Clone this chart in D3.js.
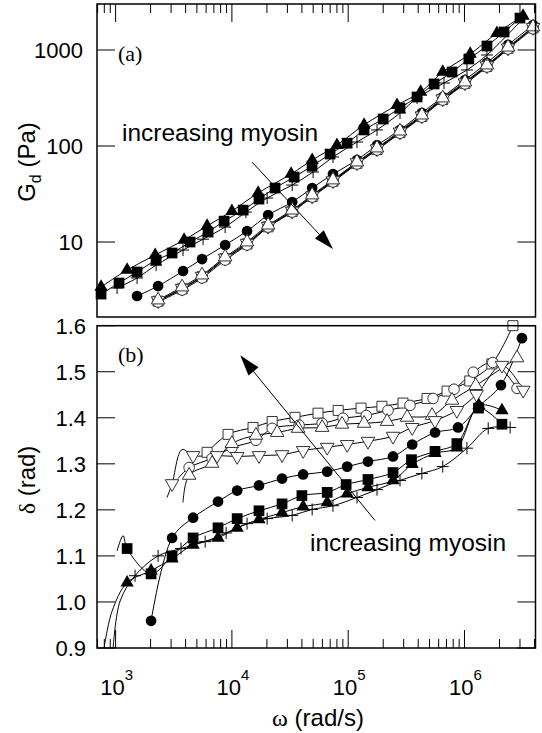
<!DOCTYPE html>
<html>
<head>
<meta charset="utf-8">
<script src="https://cdn.jsdelivr.net/npm/d3@7"></script>
<style>
  body { margin: 0; background: #fff; }
  svg { display: block; }
</style>
</head>
<body>
<svg id="chart" width="542" height="733"></svg>
<script>
// ---- panel (a): G_d (Pa) vs omega (rad/s) ----
const wFsqT = [750,1070,1530,2230,3060,4370,6240,8570,1.25e4,1.71e4,2.35e4,3.43e4,4.89e4,6.99e4,9.78e4,1.37e5,2.0e5,2.79e5,3.91e5,5.48e5,7.82e5,1.09e6,1.56e6,2.19e6,3.0e6];
const gFsqT = [2.87,3.74,4.87,6.49,7.68,10.0,12.7,16.5,21.5,28.0,36.5,47.5,61.9,82.5,107,147,191,249,324,443,590,806,1100,1540,2150];
const wFtrT = [750,1256,2190,3880,6120,1.0e4,1.68e4,3.23e4,4.9e4,8.0e4,1.37e5,2.63e5,4.2e5,6.5e5,1.12e6,1.9e6,3.19e6];
const gFtrT = [3.40,5.11,7.32,10.5,14.7,21.0,32.4,51.1,71.4,102,166,267,365,590,908,1500,2260];
const wPlT = [1030,1530,2230,3800,5650,8750,1.32e4,2.01e4,3.3e4,4.99e4,7.4e4,1.19e5,1.77e5,2.79e5,3.91e5,6.67e5,1.05e6,1.56e6,3.0e6];
const gPlT = [3.32,4.22,5.75,8.25,10.7,14.3,20.5,28.7,39.2,53.6,76.8,110,147,221,316,453,619,887,1960];
const wFciT = [1530,2320,3800,5540,8750,1.35e4,2.05e4,3.3e4,4.9e4,7.4e4,1.19e5,1.77e5,2.79e5,4.3e5,6.5e5,1.01e6,1.56e6,2.37e6,3.89e6];
const gFciT = [2.74,3.48,4.99,6.65,9.31,13.0,19.1,26.1,36.5,51.0,71.4,102,147,221,324,487,733,1130,1820];
const wOpenT = [2320,3730,5540,8750,1.35e4,2.05e4,3.3e4,4.9e4,7.4e4,1.19e5,1.77e5,2.79e5,4.3e5,6.5e5,1.01e6,1.56e6,2.37e6,3.89e6];
const gOtrT = [2.49,3.40,4.53,6.98,10.0,15.0,21.5,30.9,44.3,68.1,95.3,143,210,316,464,698,1070,1740];
const gOciT = [2.37,3.16,4.22,6.49,9.31,14.3,20.5,29.4,42.2,64.9,90.9,136,200,301,443,665,1024,1660];
const gOdtT = [2.45,3.30,4.40,6.80,9.70,14.6,21.0,30.2,43.5,67.0,93.5,140,206,310,455,685,1050,1720];
const gOsqT = [2.42,3.25,4.35,6.70,9.55,14.4,20.8,29.8,43.0,66.0,92.0,138,203,305,450,675,1040,1700];

// ---- panel (b): delta (rad) vs omega (rad/s) ----
const wFciB = [2020,3060,4640,7600,1.11e4,1.71e4,2.70e4,4.1e4,6.6e4,9.8e4,1.48e5,2.43e5,3.55e5,5.58e5,8.8e5,1.33e6,2.06e6,3.12e6];
const dFciB = [0.959,1.139,1.183,1.218,1.242,1.253,1.268,1.277,1.283,1.294,1.305,1.316,1.342,1.368,1.379,1.425,1.471,1.573];
const wFsqB = [1030,1160,1256,2020,3060,4640,7600,1.11e4,1.71e4,2.70e4,4.0e4,6.6e4,9.6e4,1.48e5,2.43e5,3.5e5,5.58e5,8.6e5,1.32e6,2.1e6];
const dFsqB = [1.111,1.144,1.116,1.061,1.100,1.139,1.161,1.181,1.198,1.213,1.231,1.238,1.255,1.266,1.281,1.309,1.327,1.344,1.421,1.386];
const wFtrB = [796,933,1256,2020,3060,4640,7600,1.11e4,1.71e4,2.70e4,4.1e4,6.6e4,9.8e4,1.48e5,2.43e5,3.55e5,5.58e5,8.6e5,1.33e6,2.1e6];
const dFtrB = [0.90,0.98,1.042,1.068,1.094,1.124,1.139,1.161,1.179,1.194,1.207,1.216,1.235,1.249,1.264,1.299,1.323,1.335,1.427,1.416];
const wPlB = [952,1093,1470,2320,3650,5890,8920,1.35e4,2.01e4,3.3e4,4.9e4,7.4e4,1.19e5,1.77e5,2.79e5,4.3e5,6.5e5,1.05e6,1.6e6,2.47e6];
const dPlB = [0.90,1.002,1.057,1.100,1.116,1.131,1.150,1.170,1.181,1.188,1.201,1.209,1.227,1.244,1.264,1.279,1.294,1.334,1.377,1.379];
const wOdtB = [2770,3060,3730,4640,7460,1.11e4,1.71e4,2.70e4,4.1e4,6.6e4,9.8e4,1.48e5,2.43e5,3.55e5,5.58e5,8.6e5,1.27e6,2.1e6,3.2e6];
const dOdtB = [1.227,1.257,1.331,1.318,1.318,1.316,1.318,1.320,1.329,1.336,1.342,1.349,1.360,1.379,1.394,1.416,1.451,1.514,1.460];
const wOtrB = [3800,4290,6760,1.0e4,1.61e4,2.45e4,3.71e4,5.97e4,8.85e4,1.37e5,2.16e5,3.21e5,5.26e5,7.82e5,1.25e6,2.83e6];
const dOtrB = [1.216,1.275,1.301,1.344,1.362,1.368,1.377,1.379,1.386,1.388,1.392,1.401,1.405,1.438,1.47,1.53];
const wOciB = [3440,4290,6760,1.0e4,1.61e4,2.22e4,3.78e4,5.97e4,9.04e4,1.43e5,2.2e5,3.4e5,5.37e5,8.13e5,1.19e6,1.75e6,2.83e6];
const dOciB = [1.268,1.292,1.312,1.335,1.351,1.377,1.384,1.388,1.399,1.405,1.416,1.427,1.442,1.462,1.499,1.52,1.464];
const wOsqB = [6120,9270,1.52e4,2.22e4,3.49e4,5.5e4,8.2e4,1.29e5,1.95e5,2.96e5,4.76e5,7.08e5,1.11e6,1.72e6,2.61e6];
const dOsqB = [1.325,1.364,1.379,1.392,1.401,1.410,1.416,1.421,1.425,1.432,1.442,1.458,1.480,1.517,1.600];

const xMajor = [1e3,1e4,1e5,1e6];
const gTicks = [10,100,1000];
const dTicks = [0.9,1.0,1.1,1.2,1.3,1.4,1.5,1.6];

const svg = d3.select("#chart");
const sans = "'Liberation Sans', Arial, Helvetica, sans-serif";
const serif = "'Liberation Serif', 'Times New Roman', serif";

const x = d3.scaleLog().domain([692, 4.08e6]).range([97, 535.5]);
const yG = d3.scaleLog().domain([1.656, 3013]).range([317, 4]);
const yD = d3.scaleLinear().domain([0.9, 1.6]).range([648, 325.7]);

// marker shapes
const sym = {
  fsq: {d: d3.symbol().type(d3.symbolSquare).size(115)(), fill: "#000", stroke: "none"},
  ftr: {d: d3.symbol().type(d3.symbolTriangle).size(76)(), fill: "#000", stroke: "none"},
  fci: {d: d3.symbol().type(d3.symbolCircle).size(90)(), fill: "#000", stroke: "none"},
  pl:  {d: "M-6,0H6M0,-6V6", fill: "none", stroke: "#000"},
  osq: {d: d3.symbol().type(d3.symbolSquare).size(100)(), fill: "#fff", stroke: "#333"},
  oci: {d: d3.symbol().type(d3.symbolCircle).size(88)(), fill: "#fff", stroke: "#333"},
  otr: {d: d3.symbol().type(d3.symbolTriangle).size(80)(), fill: "#fff", stroke: "#333"},
  odt: {d: d3.symbol().type(d3.symbolTriangle).size(80)(), fill: "#fff", stroke: "#333", rot: 180}
};

// series tables (draw order), bare = indices drawn as line only
const topSeries = [
  {w: wFciT, v: gFciT, s: "fci", bare: []},
  {w: wOpenT, v: gOsqT, s: "osq", bare: []},
  {w: wOpenT, v: gOdtT, s: "odt", bare: []},
  {w: wOpenT, v: gOciT, s: "oci", bare: []},
  {w: wOpenT, v: gOtrT, s: "otr", bare: []},
  {w: wFtrT, v: gFtrT, s: "ftr", bare: []},
  {w: wFsqT, v: gFsqT, s: "fsq", bare: []},
  {w: wPlT, v: gPlT, s: "pl", bare: [18]}
];
const botSeries = [
  {w: wOsqB, v: dOsqB, s: "osq", bare: []},
  {w: wOciB, v: dOciB, s: "oci", bare: [0]},
  {w: wOtrB, v: dOtrB, s: "otr", bare: [0]},
  {w: wOdtB, v: dOdtB, s: "odt", bare: [0, 2]},
  {w: wFciB, v: dFciB, s: "fci", bare: []},
  {w: wFsqB, v: dFsqB, s: "fsq", bare: [0, 1]},
  {w: wFtrB, v: dFtrB, s: "ftr", bare: [0, 1]},
  {w: wPlB, v: dPlB, s: "pl", bare: [0, 1]}
];

const defs = svg.append("defs");
defs.append("clipPath").attr("id", "clipTop").append("rect")
  .attr("x", 97).attr("y", 4).attr("width", 438.5).attr("height", 313);
defs.append("clipPath").attr("id", "clipBot").append("rect")
  .attr("x", 97).attr("y", 325.7).attr("width", 438.5).attr("height", 322.3);

function drawPanel(series, y, clip) {
  const line = d3.line().x(d => x(d[0])).y(d => y(d[1])).curve(d3.curveCatmullRom.alpha(0.5));
  const gl = svg.append("g").attr("clip-path", "url(#" + clip + ")");
  series.forEach(s => {
    gl.append("path").attr("d", line(s.w.map((w, i) => [w, s.v[i]])))
      .attr("fill", "none").attr("stroke", "#000").attr("stroke-width", 1);
  });
  const gm = svg.append("g");
  series.forEach(s => {
    const m = sym[s.s];
    s.w.forEach((w, i) => {
      if (s.bare.includes(i)) return;
      gm.append("path").attr("d", m.d)
        .attr("transform", "translate(" + x(w) + "," + y(s.v[i]) + ")" + (m.rot ? " rotate(" + m.rot + ")" : ""))
        .attr("fill", m.fill).attr("stroke", m.stroke).attr("stroke-width", 1);
    });
  });
}

drawPanel(topSeries, yG, "clipTop");
drawPanel(botSeries, yD, "clipBot");

// frames
svg.append("rect").attr("x", 97).attr("y", 4).attr("width", 438.5).attr("height", 313)
  .attr("fill", "none").attr("stroke", "#000").attr("stroke-width", 1.5);
svg.append("rect").attr("x", 97).attr("y", 325.7).attr("width", 438.5).attr("height", 322.3)
  .attr("fill", "none").attr("stroke", "#000").attr("stroke-width", 1.5);

// x ticks: top edge of panel (a) and bottom edge of panel (b)
const ax = svg.append("g").attr("stroke", "#000").attr("stroke-width", 1);
x.ticks().forEach(t => {
  const major = xMajor.includes(t);
  const len = major ? 18 : 9;
  const px = x(t);
  if (px < 97 || px > 535.5) return;
  ax.append("line").attr("x1", px).attr("x2", px).attr("y1", 4).attr("y2", 4 + len);
  ax.append("line").attr("x1", px).attr("x2", px).attr("y1", 648).attr("y2", 648 - len);
});
gTicks.forEach(t => {
  ax.append("line").attr("x1", 97).attr("x2", 115).attr("y1", yG(t)).attr("y2", yG(t));
  ax.append("line").attr("x1", 535.5).attr("x2", 517.5).attr("y1", yG(t)).attr("y2", yG(t));
});
dTicks.forEach(t => {
  ax.append("line").attr("x1", 97).attr("x2", 115).attr("y1", yD(t)).attr("y2", yD(t));
  ax.append("line").attr("x1", 535.5).attr("x2", 517.5).attr("y1", yD(t)).attr("y2", yD(t));
});

// tick labels
const lab = svg.append("g").attr("font-family", sans).attr("font-size", 22).attr("fill", "#000");
gTicks.forEach(t => {
  lab.append("text").attr("x", 83).attr("y", yG(t) + 8).attr("text-anchor", "end").text(t);
});
dTicks.forEach(t => {
  lab.append("text").attr("x", 86).attr("y", yD(t) + 8).attr("text-anchor", "end").text(t.toFixed(1));
});
xMajor.forEach(t => {
  const tx = lab.append("text").attr("x", x(t) + 1).attr("y", 694.5).attr("text-anchor", "middle");
  tx.append("tspan").text("10");
  tx.append("tspan").attr("dy", -15).attr("font-size", 15).text(Math.round(Math.log10(t)));
});

// axis titles
const yl1 = svg.append("text").attr("transform", "translate(35,162) rotate(-90)")
  .attr("text-anchor", "middle").attr("font-family", sans).attr("font-size", 24);
yl1.append("tspan").text("G");
yl1.append("tspan").attr("dy", 6).attr("font-size", 16).text("d");
yl1.append("tspan").attr("dy", -6).text(" (Pa)");

const yl2 = svg.append("text").attr("transform", "translate(35,480) rotate(-90)")
  .attr("text-anchor", "middle").attr("font-family", sans).attr("font-size", 24);
yl2.append("tspan").attr("font-family", serif).text("δ");
yl2.append("tspan").text(" (rad)");

const xl = svg.append("text").attr("x", 318).attr("y", 726)
  .attr("text-anchor", "middle").attr("font-family", sans).attr("font-size", 24);
xl.append("tspan").attr("font-family", serif).text("ω");
xl.append("tspan").text(" (rad/s)");

// panel letters
svg.append("text").attr("x", 118).attr("y", 61).attr("font-family", serif).attr("font-size", 22).text("(a)");
svg.append("text").attr("x", 118).attr("y", 362).attr("font-family", serif).attr("font-size", 22).text("(b)");

// annotations
svg.append("text").attr("x", 122).attr("y", 141).attr("font-family", sans).attr("font-size", 24.5).text("increasing myosin");
svg.append("text").attr("x", 310).attr("y", 551).attr("font-family", sans).attr("font-size", 24.5).text("increasing myosin");

function arrow(x0, y0, x1, y1, len, half) {
  const a = Math.atan2(y1 - y0, x1 - x0);
  const bx = x1 - len * Math.cos(a), by = y1 - len * Math.sin(a);
  svg.append("line").attr("x1", x0).attr("y1", y0).attr("x2", bx).attr("y2", by)
    .attr("stroke", "#000").attr("stroke-width", 1);
  const p = [[x1, y1],
    [bx + half * Math.sin(a), by - half * Math.cos(a)],
    [bx - half * Math.sin(a), by + half * Math.cos(a)]];
  svg.append("path").attr("d", "M" + p.join("L") + "Z").attr("fill", "#000");
}
arrow(x(1.49e4), yG(68), x(7.4e4), yG(8.45), 20, 6);
arrow(x(1.70e5), yD(1.177), x(1.18e4), yD(1.536), 21, 6.5);
</script>
</body>
</html>
